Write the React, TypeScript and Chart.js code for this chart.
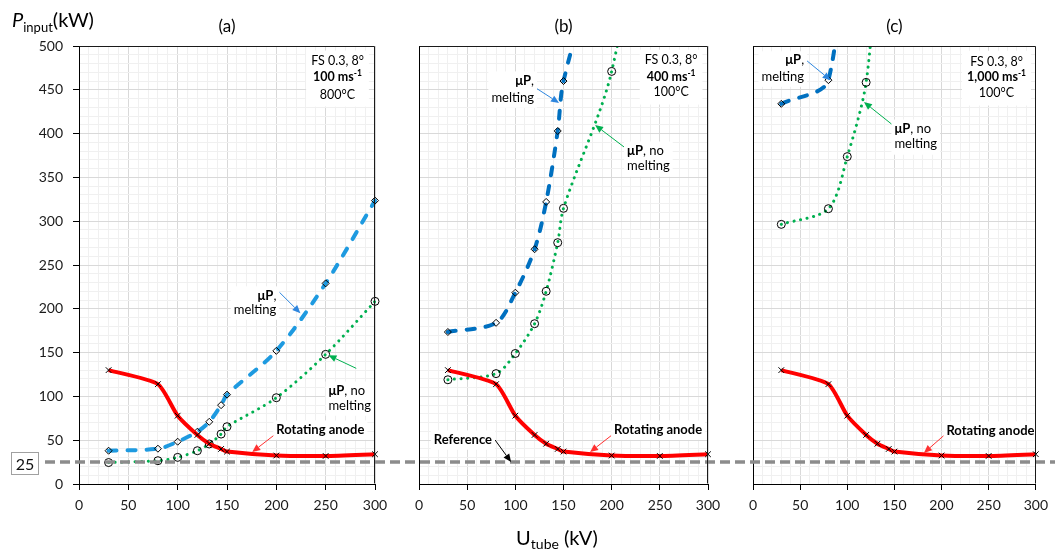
import React, { useEffect, useRef } from 'react';
import { Chart, registerables } from 'chart.js';

Chart.register(...registerables);

const FONT = 'Lato, "Open Sans", "DejaVu Sans", sans-serif';

// ---------------- data ----------------
const tubeVoltage = [30, 80, 100, 120, 132, 144, 150, 200, 250, 300];
const rotatingAnode = [130, 114, 78, 56, 46, 40, 37, 32.5, 32, 34];

const meltingA = [38, 40.3, 48.3, 59.7, 71, 90, 102, 152, 229, 323.5];
const noMeltingA = [24.5, 26.6, 30.4, 38, 45.7, 57, 65.4, 98.5, 148, 208.5];

const meltingB = [173.5, 184, 218.4, 268, 322, 403, 460, 660];
const noMeltingB = [119, 126, 149, 183, 220, 275.5, 314.7, 471, 790];

const meltingC = [434, 461, 740];
const noMeltingC = [296.4, 314.3, 373.7, 458.5, 610];

const referencePower = 25;
const xRange = [0, 300];
const yRange = [0, 500];
const majorStep = 50;
const minorStep = 10;

// ---------------- types ----------------
type Run = { t: string; b?: boolean; i?: boolean; s?: number; dy?: number };
type Label = { x: number; ys: number[]; lines: Run[][]; align: 'left' | 'right' | 'center'; size: number; pad: number };
type Arrow = { from: [number, number]; to: [number, number]; color: string };
type Panel = {
  key: string;
  title: string;
  left: number;
  width: number;
  yAxisWidth: number;
  rightPad: number;
  showY: boolean;
  melting: number[];
  noMelting: number[];
  meltingColor: string;
  refStart: number;
  labels: Label[];
  arrows: Arrow[];
};

const mp = (rest: string): Run[] => [{ t: 'μP', b: true }, { t: rest }];
const info = (speed: string, temp: string, x: number, ys: number[]): Label => ({
  x,
  ys,
  align: 'center',
  size: 12.5,
  pad: 5,
  lines: [[{ t: 'FS 0.3, 8°' }], [{ t: speed + ' ms', b: true }, { t: '-1', b: true, s: 8.5, dy: -5 }], [{ t: temp }]],
});

const panels: Panel[] = [
  {
    key: 'a',
    title: '(a)',
    left: 0,
    width: 397,
    yAxisWidth: 79,
    rightPad: 22,
    showY: true,
    melting: meltingA,
    noMelting: noMeltingA,
    meltingColor: '#1E9AE0',
    refStart: 40,
    labels: [
      info('100', '800°C', 262, [478, 459.5, 440]),
      { x: 200, ys: [210.6, 194.6], align: 'right', size: 13, pad: 3, lines: [mp(','), [{ t: 'melting' }]] },
      { x: 252.8, ys: [102, 85], align: 'left', size: 13, pad: 3, lines: [mp(', no'), [{ t: 'melting' }]] },
      { x: 200, ys: [57.6], align: 'left', size: 13, pad: 3, lines: [[{ t: 'Rotating anode', b: true }]] },
    ],
    arrows: [
      { from: [203, 219], to: [224.4, 195], color: '#2E86DE' },
      { from: [281, 132], to: [252.8, 147], color: '#00B050' },
      { from: [198, 56], to: [175.6, 36.5], color: '#FF3030' },
    ],
  },
  {
    key: 'b',
    title: '(b)',
    left: 397,
    width: 333,
    yAxisWidth: 22,
    rightPad: 22,
    showY: false,
    melting: meltingB,
    noMelting: noMeltingB,
    meltingColor: '#0070C0',
    refStart: 0,
    labels: [
      info('400', '100°C', 261.7, [479, 460.6, 442.4]),
      { x: 119.4, ys: [456, 436.6], align: 'right', size: 13, pad: 3, lines: [mp(','), [{ t: 'melting' }]] },
      { x: 216, ys: [376, 358], align: 'left', size: 13, pad: 3, lines: [mp(', no'), [{ t: 'melting' }]] },
      { x: 202.5, ys: [57.6], align: 'left', size: 13, pad: 3, lines: [[{ t: 'Rotating anode', b: true }]] },
      { x: 75.8, ys: [46.2], align: 'right', size: 13, pad: 3, lines: [[{ t: 'Reference', b: true }]] },
    ],
    arrows: [
      { from: [113.2, 457.8], to: [145.4, 435], color: '#2E86DE' },
      { from: [212.9, 384.7], to: [182.8, 409.8], color: '#00B050' },
      { from: [200.4, 56], to: [177.6, 36.5], color: '#FF3030' },
      { from: [79, 50.2], to: [95.6, 25.1], color: '#000000' },
    ],
  },
  {
    key: 'c',
    title: '(c)',
    left: 730,
    width: 325,
    yAxisWidth: 23,
    rightPad: 14,
    showY: false,
    melting: meltingC,
    noMelting: noMeltingC,
    meltingColor: '#0070C0',
    refStart: 0,
    labels: [
      info('1,000', '100°C', 258.3, [477.7, 459.5, 441.3]),
      { x: 54.2, ys: [479, 460.6], align: 'right', size: 13, pad: 3, lines: [mp(','), [{ t: 'melting' }]] },
      { x: 150, ys: [401, 383], align: 'left', size: 13, pad: 3, lines: [mp(', no'), [{ t: 'melting' }]] },
      { x: 205.2, ys: [56.5], align: 'left', size: 13, pad: 3, lines: [[{ t: 'Rotating anode', b: true }]] },
    ],
    arrows: [
      { from: [56.2, 484], to: [82.3, 461], color: '#2E86DE' },
      { from: [148, 410], to: [117.7, 436], color: '#00B050' },
      { from: [204.2, 57], to: [181.3, 35.4], color: '#FF3030' },
    ],
  },
];

// ---------------- drawing helpers ----------------
const fontOf = (r: Run, base: number) => `${r.i ? 'italic ' : ''}${r.b ? 'bold ' : ''}${r.s ?? base}px ${FONT}`;

function runsWidth(ctx: CanvasRenderingContext2D, runs: Run[], base: number) {
  let w = 0;
  for (const r of runs) {
    ctx.font = fontOf(r, base);
    w += ctx.measureText(r.t).width;
  }
  return w;
}

function drawRuns(ctx: CanvasRenderingContext2D, runs: Run[], x: number, y: number, align: string, base: number, color: string) {
  const w = runsWidth(ctx, runs, base);
  let cx = align === 'left' ? x : align === 'right' ? x - w : x - w / 2;
  ctx.fillStyle = color;
  ctx.textBaseline = 'alphabetic';
  ctx.textAlign = 'left';
  for (const r of runs) {
    ctx.font = fontOf(r, base);
    ctx.fillText(r.t, cx, y + (r.dy ?? 0));
    cx += ctx.measureText(r.t).width;
  }
}

function drawArrow(ctx: CanvasRenderingContext2D, x1: number, y1: number, x2: number, y2: number, color: string) {
  const ang = Math.atan2(y2 - y1, x2 - x1);
  const L = 8;
  const W = 3.5;
  const bx = x2 - L * Math.cos(ang);
  const by = y2 - L * Math.sin(ang);
  ctx.strokeStyle = color;
  ctx.lineWidth = 1;
  ctx.setLineDash([]);
  ctx.beginPath();
  ctx.moveTo(x1, y1);
  ctx.lineTo(bx, by);
  ctx.stroke();
  ctx.fillStyle = color;
  ctx.beginPath();
  ctx.moveTo(x2, y2);
  ctx.lineTo(bx + W * Math.sin(ang), by - W * Math.cos(ang));
  ctx.lineTo(bx - W * Math.sin(ang), by + W * Math.cos(ang));
  ctx.closePath();
  ctx.fill();
}

function decorPlugin(p: Panel) {
  return {
    id: 'decor-' + p.key,
    afterDatasetsDraw(chart: any) {
      const { ctx, chartArea } = chart;
      const xs = chart.scales.x;
      const ys = chart.scales.y;
      ctx.save();

      // reference level line across the whole canvas
      const ry = ys.getPixelForValue(referencePower);
      ctx.strokeStyle = '#8C8C8C';
      ctx.lineWidth = 3.5;
      ctx.setLineDash([10, 5]);
      ctx.lineDashOffset = p.left + p.refStart;
      ctx.beginPath();
      ctx.moveTo(p.refStart, ry);
      ctx.lineTo(chart.width, ry);
      ctx.stroke();
      ctx.setLineDash([]);

      // arrows
      for (const a of p.arrows) {
        drawArrow(ctx, xs.getPixelForValue(a.from[0]), ys.getPixelForValue(a.from[1]), xs.getPixelForValue(a.to[0]), ys.getPixelForValue(a.to[1]), a.color);
      }

      // labels with white background
      for (const l of p.labels) {
        const px = xs.getPixelForValue(l.x);
        const pys = l.ys.map((v) => ys.getPixelForValue(v));
        const w = Math.max(...l.lines.map((r) => runsWidth(ctx, r, l.size)));
        const left = l.align === 'left' ? px : l.align === 'right' ? px - w : px - w / 2;
        const top = pys[0] - l.size * 0.78 - l.pad;
        const bottom = pys[pys.length - 1] + l.size * 0.25 + l.pad;
        ctx.fillStyle = '#FFFFFF';
        ctx.fillRect(left - l.pad, top, w + 2 * l.pad, bottom - top);
        l.lines.forEach((runs, i) => drawRuns(ctx, runs, px, pys[i], l.align, l.size, '#000000'));
      }

      // plot area border (top/right)
      ctx.strokeStyle = '#1A1A1A';
      ctx.lineWidth = 1;
      const L = Math.round(chartArea.left) + 0.5;
      const R = Math.round(chartArea.right) - 0.5;
      const T = Math.round(chartArea.top) + 0.5;
      const B = Math.round(chartArea.bottom) - 0.5;
      ctx.beginPath();
      ctx.moveTo(L, T);
      ctx.lineTo(R, T);
      ctx.lineTo(R, B);
      ctx.stroke();

      // panel title
      drawRuns(ctx, [{ t: p.title }], (chartArea.left + chartArea.right) / 2, 32, 'center', 17, '#000000');

      if (p.key === 'a') {
        // "25" box
        ctx.fillStyle = '#FFFFFF';
        ctx.fillRect(11.5, 452.5, 27, 22);
        ctx.strokeStyle = '#A0A0A0';
        ctx.strokeRect(11.5, 452.5, 27, 22);
        drawRuns(ctx, [{ t: String(referencePower) }], 25, 469.5, 'center', 16, '#111111');
        // y title
        drawRuns(ctx, [{ t: 'P', i: true, s: 20 }, { t: 'input', s: 13, dy: 5 }, { t: '(kW)', s: 20 }], 12, 27, 'left', 20, '#000000');
      }
      if (p.key === 'b') {
        drawRuns(ctx, [{ t: 'U', s: 20 }, { t: 'tube', s: 14, dy: 4 }, { t: ' (kV)', s: 20 }], 557 - p.left, 545, 'center', 20, '#000000');
      }
      ctx.restore();
    },
  };
}

function buildChart(canvas: HTMLCanvasElement, p: Panel) {
  const xy = (vals: number[]) => vals.map((v, i) => ({ x: tubeVoltage[i], y: v }));
  const isMajor = (c: any) => c.tick && Math.abs(c.tick.value % majorStep) < 1e-6;
  const gridColor = (c: any) => (isMajor(c) ? '#D9D9D9' : '#F0F0F0');
  const tickColor = (c: any) => (isMajor(c) ? '#000000' : 'rgba(0,0,0,0)');
  const labelCb = (v: any) => (Math.abs(Number(v) % majorStep) < 1e-6 ? String(v) : '');
  const clip = { left: 6, right: 6, top: 0, bottom: 6 };

  return new Chart(canvas, {
    type: 'line',
    data: {
      datasets: [
        {
          label: 'Rotating anode',
          data: xy(rotatingAnode),
          borderColor: '#FF0000',
          borderWidth: 4,
          tension: 0.2,
          pointStyle: 'crossRot',
          pointRadius: 4,
          pointBorderColor: '#000000',
          pointBorderWidth: 1,
          pointBackgroundColor: 'rgba(0,0,0,0)',
          clip,
        },
        {
          label: 'μP, melting',
          data: xy(p.melting),
          borderColor: p.meltingColor,
          borderWidth: 4,
          borderDash: [8, 11],
          borderCapStyle: 'round',
          tension: 0.3,
          pointStyle: 'rectRot',
          pointRadius: 3.5,
          pointBorderColor: '#000000',
          pointBorderWidth: 1,
          pointBackgroundColor: 'rgba(0,0,0,0)',
          clip,
        },
        {
          label: 'μP, no melting',
          data: xy(p.noMelting),
          borderColor: '#00B050',
          borderWidth: 3,
          borderDash: [0.1, 6.5],
          borderCapStyle: 'round',
          tension: 0.3,
          pointStyle: 'circle',
          pointRadius: 4,
          pointBorderColor: '#000000',
          pointBorderWidth: 1,
          pointBackgroundColor: 'rgba(0,0,0,0)',
          clip,
        },
      ] as any,
    },
    options: {
      responsive: false,
      animation: false,
      devicePixelRatio: 1,
      events: [],
      layout: { padding: { top: 46, right: p.rightPad, bottom: 0, left: 0 } },
      elements: { line: { capBezierPoints: false } },
      plugins: { legend: { display: false }, tooltip: { enabled: false }, title: { display: false } },
      scales: {
        x: {
          type: 'linear',
          min: xRange[0],
          max: xRange[1],
          ticks: {
            stepSize: minorStep,
            autoSkip: false,
            maxRotation: 0,
            minRotation: 0,
            padding: 7,
            color: '#1A1A1A',
            font: { family: FONT, size: 14 },
            callback: labelCb,
          },
          grid: { color: gridColor, tickColor, tickLength: 6, lineWidth: 1 },
          border: { color: '#000000', width: 1 },
          afterFit: (s: any) => {
            s.height = 67;
          },
        },
        y: {
          type: 'linear',
          min: yRange[0],
          max: yRange[1],
          ticks: {
            display: p.showY,
            stepSize: minorStep,
            autoSkip: false,
            padding: 10,
            color: '#1A1A1A',
            font: { family: FONT, size: 14 },
            callback: labelCb,
          },
          grid: { color: gridColor, tickColor, tickLength: 6, drawTicks: p.showY, lineWidth: 1 },
          border: { color: '#000000', width: 1 },
          afterFit: (s: any) => {
            s.width = p.yAxisWidth;
          },
        },
      },
    } as any,
    plugins: [decorPlugin(p)],
  });
}

export default function App() {
  const r0 = useRef<HTMLCanvasElement>(null);
  const r1 = useRef<HTMLCanvasElement>(null);
  const r2 = useRef<HTMLCanvasElement>(null);
  const refs = [r0, r1, r2];

  useEffect(() => {
    const charts = panels.map((p, i) => buildChart(refs[i].current as HTMLCanvasElement, p));
    return () => charts.forEach((c) => c.destroy());
  }, []);

  return (
    <div style={{ position: 'absolute', left: 0, top: 0, width: 1055, height: 551, background: '#FFFFFF', overflow: 'hidden' }}>
      {panels.map((p, i) => (
        <canvas
          key={p.key}
          ref={refs[i]}
          width={p.width}
          height={551}
          style={{ position: 'absolute', left: p.left, top: 0, width: p.width, height: 551 }}
        />
      ))}
    </div>
  );
}
